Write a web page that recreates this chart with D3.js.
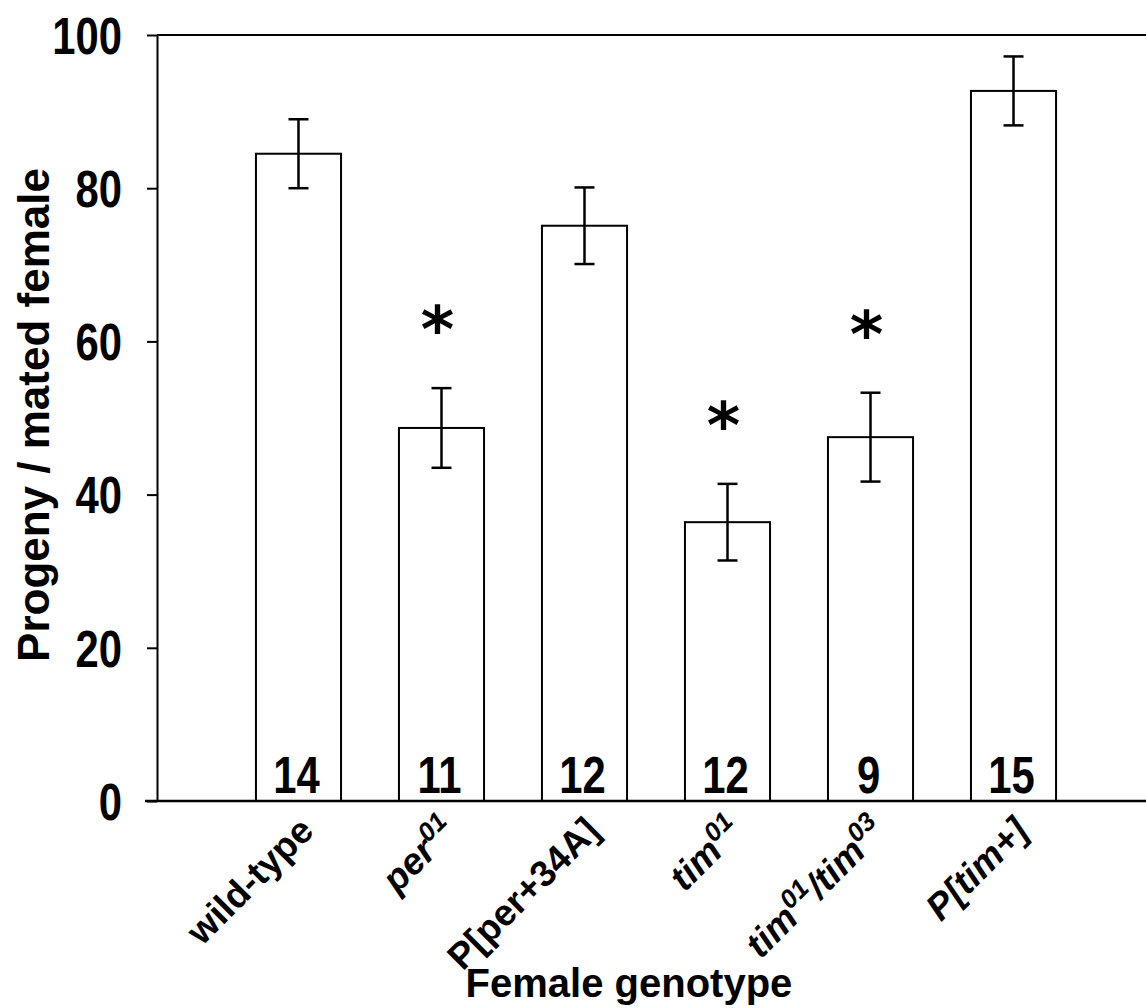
<!DOCTYPE html>
<html>
<head>
<meta charset="utf-8">
<script src="https://cdnjs.cloudflare.com/ajax/libs/d3/7.8.5/d3.min.js"></script>
<style>
  body { margin: 0; background: #fff; }
  svg text { font-family: "Liberation Sans", Arial, sans-serif; font-weight: bold; fill: #000; }
</style>
</head>
<body>
<div id="chart"></div>
<script>
// data
var genotypes = ["wild-type", "per01", "P[per+34A]", "tim01", "tim01/tim03", "P[tim+]"];
var means = [84.5, 48.7, 75.1, 36.4, 47.5, 92.7];
var errs = [4.5, 5.2, 5.0, 5.0, 5.8, 4.5];
var counts = [14, 11, 12, 12, 9, 15];
var significant = [false, true, false, true, true, false];
var yTicks = [0, 20, 40, 60, 80, 100];
// rich label pieces (italic gene names, superscript alleles)
var labelParts = [
  [{t: "wild-type"}],
  [{t: "per", i: 1}, {t: "01", i: 1, sup: 1}],
  [{t: "P[per+34A]"}],
  [{t: "tim", i: 1}, {t: "01", i: 1, sup: 1}],
  [{t: "tim", i: 1}, {t: "01", i: 1, sup: 1}, {t: "/tim", i: 1}, {t: "03", i: 1, sup: 1}],
  [{t: "P[tim+]", i: 1}]
];
var yTitle = "Progeny / mated female";
var xTitle = "Female genotype";

var w = 1146, h = 1008;
var narrow = 0.82; // condensed look of the numbers

var svg = d3.select("#chart").append("svg")
    .attr("width", w)
    .attr("height", h);

var x = d3.scaleBand()
    .domain(genotypes)
    .range([170, 1142])
    .paddingInner(0.405)
    .paddingOuter(0.601);

var y = d3.scaleLinear()
    .domain([0, 100])
    .range([801, 35]);

var axisLeft = 157;

// frame: top line
svg.append("line")
    .attr("x1", axisLeft).attr("x2", w)
    .attr("y1", y(100)).attr("y2", y(100))
    .attr("stroke", "#000").attr("stroke-width", 2);

// bars
svg.selectAll("rect.bar")
    .data(genotypes)
    .enter().append("rect")
    .attr("class", "bar")
    .attr("x", function(d) { return x(d); })
    .attr("y", function(d, i) { return y(means[i]); })
    .attr("width", x.bandwidth())
    .attr("height", function(d, i) { return y(0) - y(means[i]); })
    .attr("fill", "#fff")
    .attr("stroke", "#000")
    .attr("stroke-width", 2);

// baseline
svg.append("line")
    .attr("x1", 145).attr("x2", w)
    .attr("y1", y(0)).attr("y2", y(0))
    .attr("stroke", "#000").attr("stroke-width", 2.5);

var capW = 10;
genotypes.forEach(function(g, i) {
  var cx = x(g) + x.bandwidth() / 2;
  var top = y(means[i] + errs[i]), bot = y(means[i] - errs[i]);

  // error bar
  var eb = svg.append("g").attr("stroke", "#000").attr("stroke-width", 2.5);
  eb.append("line").attr("x1", cx).attr("x2", cx).attr("y1", top).attr("y2", bot);
  eb.append("line").attr("x1", cx - capW).attr("x2", cx + capW).attr("y1", top).attr("y2", top);
  eb.append("line").attr("x1", cx - capW).attr("x2", cx + capW).attr("y1", bot).attr("y2", bot);

  if (significant[i]) {
    svg.append("text")
      .attr("x", cx - 4)
      .attr("y", top - 65 + 29)
      .attr("text-anchor", "middle")
      .attr("font-size", 64)
      .style("font-family", "'DejaVu Sans', sans-serif")
      .text("*");
  }

  // n per bar
  svg.append("text")
    .attr("transform", "translate(" + (cx - 2) + ",793) scale(" + narrow + ",1)")
    .attr("text-anchor", "middle")
    .attr("font-size", 51)
    .text(counts[i]);

  // rotated genotype label
  var lab = svg.append("text")
    .attr("text-anchor", "end")
    .attr("font-size", 37)
    .attr("transform", "translate(" + (cx + 17) + "," + 833 + ") rotate(-45)");
  var raised = false;
  labelParts[i].forEach(function(p) {
    var ts = lab.append("tspan").text(p.t);
    if (p.i) ts.style("font-style", "italic");
    if (p.sup && !raised) { ts.attr("dy", "-0.55em").attr("font-size", 26); raised = true; }
    else if (!p.sup && raised) { ts.attr("dy", "0.39em"); raised = false; }
  });
});

// y axis
var yAxis = svg.append("g")
    .attr("transform", "translate(" + axisLeft + ",0)")
    .call(d3.axisLeft(y).tickValues(yTicks).tickSize(10).tickSizeOuter(0));
yAxis.select(".domain").attr("stroke", "#000").attr("stroke-width", 2);
yAxis.selectAll(".tick line").attr("stroke", "#000").attr("stroke-width", 2);
yAxis.selectAll(".tick text")
    .attr("x", 0)
    .attr("dy", "0.36em")
    .attr("transform", "translate(-35,0) scale(" + narrow + ",1)")
    .attr("font-size", 51)
    .style("font-family", "'Liberation Sans', Arial, sans-serif")
    .style("font-weight", "bold")
    .attr("fill", "#000");

// axis titles
svg.append("text")
    .attr("transform", "translate(49,415) rotate(-90)")
    .attr("text-anchor", "middle")
    .attr("font-size", 44)
    .text(yTitle);

svg.append("text")
    .attr("x", 629)
    .attr("y", 997)
    .attr("text-anchor", "middle")
    .attr("font-size", 40)
    .text(xTitle);
</script>
</body>
</html>
